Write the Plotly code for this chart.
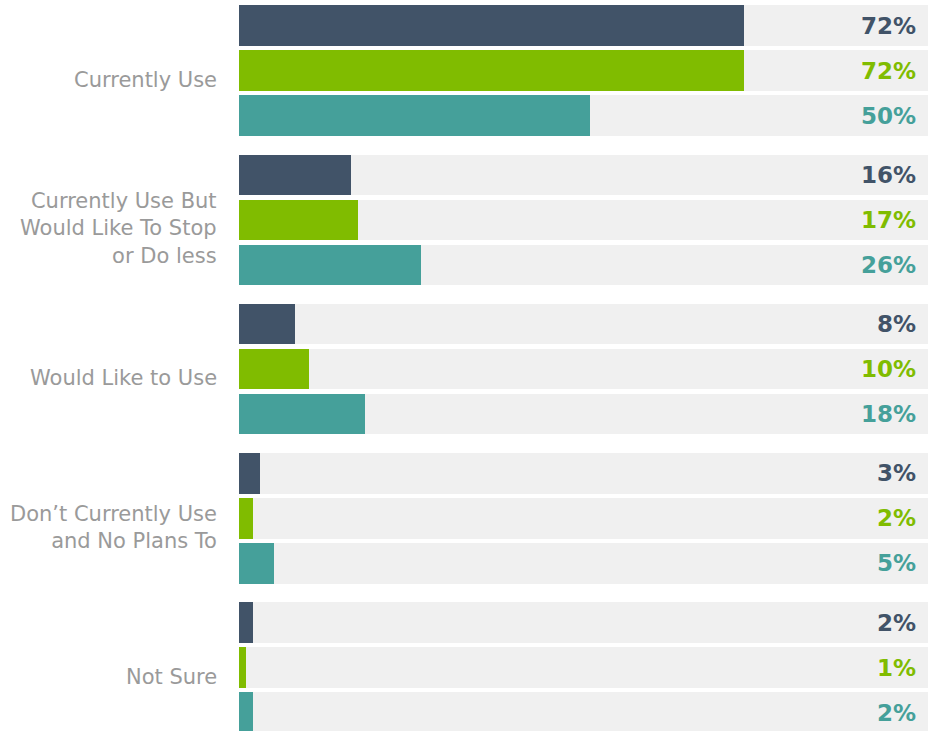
import plotly.graph_objects as go

categories = [
    "Currently Use",
    "Currently Use But<br>Would Like To Stop<br>or Do less",
    "Would Like to Use",
    "Don’t Currently Use<br>and No Plans To",
    "Not Sure",
]
series_names = ["Series A", "Series B", "Series C"]
values_a = [72, 16, 8, 3, 2]
values_b = [72, 17, 10, 2, 1]
values_c = [50, 26, 18, 5, 2]
series_values = [values_a, values_b, values_c]
colors = ["#415368", "#80bc00", "#45a09a"]

AXIS_MAX = 98.2
BG = "#f0f0f0"
GROUP_PITCH = 149.25
BAR_PITCH = 45
FIRST = 25.5
BAR_W = 40.5

fig = go.Figure()

def ypos(g, j):
    return FIRST + g * GROUP_PITCH + j * BAR_PITCH

# background bars
bg_y = [ypos(g, j) for g in range(len(categories)) for j in range(3)]
fig.add_trace(go.Bar(
    x=[AXIS_MAX] * len(bg_y), y=bg_y, orientation="h", width=BAR_W,
    marker=dict(color=BG, line=dict(width=0)), hoverinfo="skip", showlegend=False,
))

annotations = []
for j, (name, vals, col) in enumerate(zip(series_names, series_values, colors)):
    ys = [ypos(g, j) for g in range(len(categories))]
    fig.add_trace(go.Bar(
        x=vals, y=ys, orientation="h", width=BAR_W, name=name,
        marker=dict(color=col, line=dict(width=0)), showlegend=False,
    ))
    for y, v in zip(ys, vals):
        annotations.append(dict(
            x=AXIS_MAX, y=y, xref="x", yref="y", text=f"<b>{v}%</b>",
            xanchor="right", yanchor="middle", xshift=-10, showarrow=False,
            font=dict(family="DejaVu Sans, sans-serif", size=23, color=col),
        ))

for g, cat in enumerate(categories):
    annotations.append(dict(
        x=0, y=ypos(g, 1) + 9, xref="paper", yref="y", text=cat,
        xanchor="right", yanchor="middle", xshift=-20, showarrow=False, align="right",
        font=dict(family="DejaVu Sans, sans-serif", size=21, color="#9a9a9a"),
    ))

fig.update_layout(
    width=935, height=731,
    margin=dict(l=239, r=7, t=0, b=0),
    barmode="overlay",
    plot_bgcolor="white", paper_bgcolor="white",
    xaxis=dict(range=[0, AXIS_MAX], visible=False, fixedrange=True),
    yaxis=dict(range=[731, 0], visible=False, fixedrange=True),
    annotations=annotations,
    bargap=0,
)

fig.write_html("out.html")
